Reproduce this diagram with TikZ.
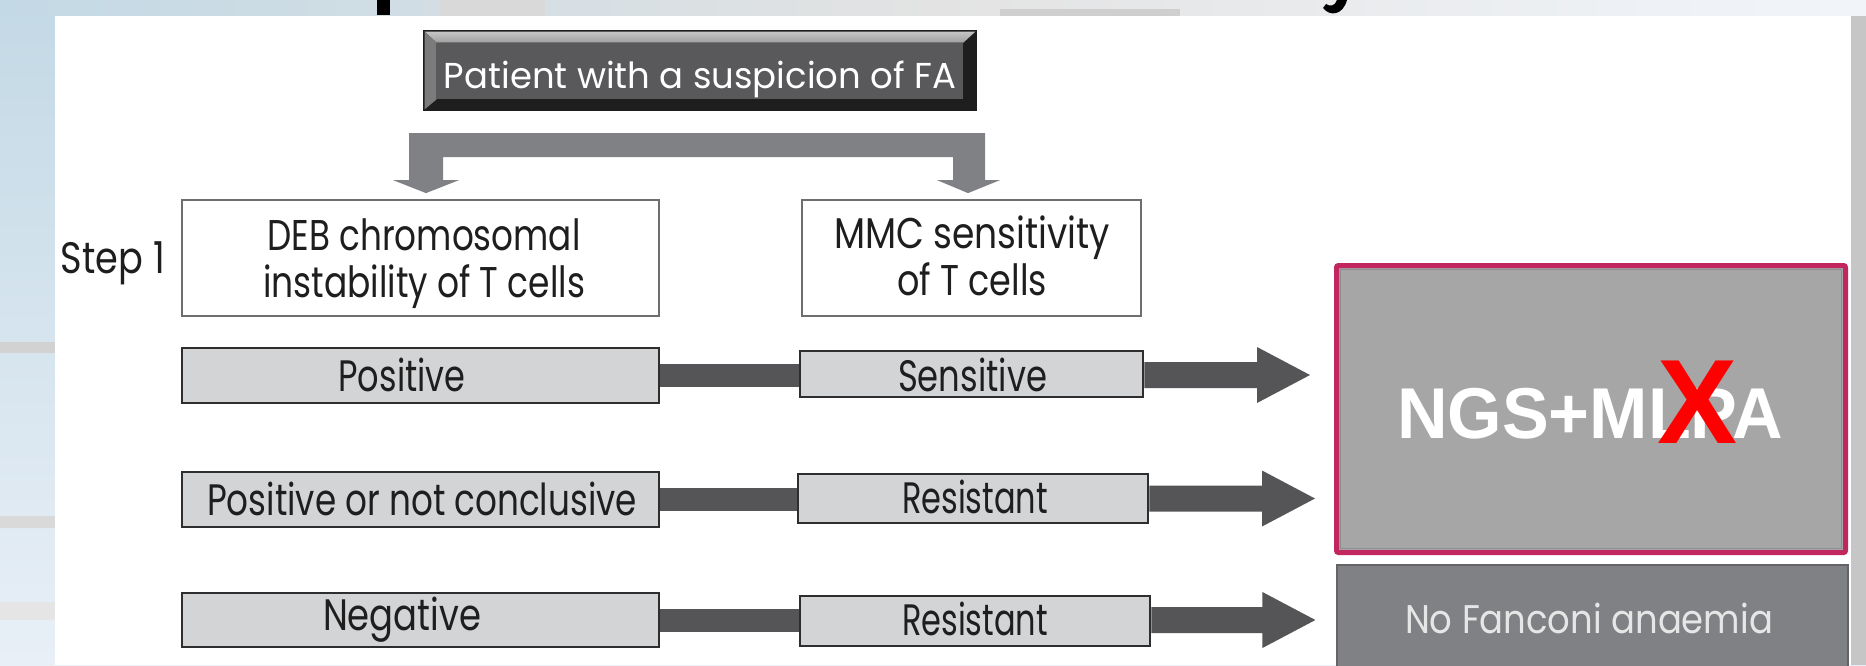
\documentclass[tikz,border=0pt]{standalone}
\usepackage{fontspec}
\setmainfont{Poppins}
\newfontfamily\arialf{Liberation Sans}
\usepackage{graphicx}
\usetikzlibrary{calc}
\newlength\pxu \setlength\pxu{0.5pt}
\newcommand\fw[2]{\resizebox{#1\pxu}{\height}{#2}}
\newcommand\fs[1]{\fontsize{#1}{#1}\selectfont}
\definecolor{ink}{HTML}{1E1E1E}
\definecolor{rowfill}{HTML}{D3D4D6}
\definecolor{rowline}{HTML}{2E2E2E}
\definecolor{wline}{HTML}{6E6E6E}
\definecolor{darkc}{HTML}{555557}
\definecolor{barc}{HTML}{808185}
\definecolor{pinkc}{HTML}{C2265F}
\definecolor{ngsfill}{HTML}{A6A6A6}
\definecolor{ngsinner}{HTML}{8E8E8E}
\definecolor{nofafill}{HTML}{808184}
\definecolor{nofaline}{HTML}{646466}
\definecolor{nofatext}{HTML}{E6E6E6}
\definecolor{patouter}{HTML}{1E1E1E}
\definecolor{patinner}{HTML}{59595B}
\definecolor{bgtop}{HTML}{C3D9E5}
\definecolor{bgbot}{HTML}{E8EFF7}
\begin{document}
\begin{tikzpicture}[x=0.5pt,y=-0.5pt,
  txt/.style={inner sep=0pt, outer sep=0pt, anchor=base, text=ink},
  rowl/.style={draw=rowline, line width=1.35pt, fill=rowfill, inner sep=0pt},
  wbox/.style={draw=wline, line width=0.9pt, fill=white, inner sep=0pt},
  conn/.style={draw=darkc, line width=11.5pt},
]
\useasboundingbox (0,0) rectangle (1866,665);
% background outside the white panel
\shade[top color=bgtop, bottom color=bgbot] (0,0) rectangle (1866,665);
\shade[left color=bgtop, right color=bgbot!60!white, middle color=gray!22!white] (0,0) rectangle (1866,16);
\fill[gray!30!white] (440,0) rectangle (545,16);
\fill[gray!38!white] (1000,9) rectangle (1180,16);
\fill[black] (377,0) rectangle (390,15);
\fill[black] (1323,8) .. controls (1330,17) and (1343,15) .. (1347,0) -- (1337,0) .. controls (1335,6) and (1330,7) .. (1326,4) -- cycle;
\fill[gray!35!white] (0,342) rectangle (55,353);
\fill[gray!30!white] (0,516) rectangle (55,528);
\fill[gray!20!white] (0,602) rectangle (55,620);
\fill[gray!45!white] (1851,16) rectangle (1866,665);
% white panel
\fill[white] (55,16) rectangle (1851,665);

% top box
\node[fill=patouter, inner sep=0pt, minimum width=277pt, minimum height=40.5pt] (pat) at (700,70.5) {};
\shade[top color=gray!45!white, bottom color=gray!75!white] ($(pat.north west)+(2,2)$) -- ($(pat.north east)+(-2,2)$) -- ($(pat.north east)+(-14,13)$) -- ($(pat.north west)+(14,13)$) -- cycle;
\fill[gray!85!black!90] ($(pat.north west)+(2,2)$) -- ($(pat.north west)+(14,13)$) -- ($(pat.south west)+(14,-12)$) -- ($(pat.south west)+(2,-2)$) -- cycle;
\fill[patinner] ($(pat.north west)+(14,13)$) rectangle ($(pat.south east)+(-14,-12)$);
\node[txt, text=white, font=\fs{18}] (patt) at (700,88) {\fw{512}{Patient with a suspicion of FA}};

% step 1 boxes
\node[txt, font=\fs{22}] (step) at (113,273) {\fw{104}{Step 1}};
\node[wbox, minimum width=238.5pt, minimum height=58pt] (deb) at (420.5,258) {};
\node[wbox, minimum width=169.5pt, minimum height=58pt] (mmc) at (971.5,258) {};
\node[txt, font=\fs{21.5}] (deb1) at (424,250) {\fw{313}{DEB chromosomal}};
\node[txt, font=\fs{21.5}] (deb2) at (424,297) {\fw{322}{instability of T cells}};
\node[txt, font=\fs{21.5}] (mmc1) at (972,248) {\fw{276}{MMC sensitivity}};
\node[txt, font=\fs{21.5}] (mmc2) at (972,295) {\fw{150}{of T cells}};

% branching grey arrow
\coordinate (tipL) at ($(deb.north)+(5.5,-6)$);
\coordinate (tipR) at ($(mmc.north)+(-3.5,-6)$);
\fill[barc] (tipL) -- ($(tipL)+(-33,-13)$) -- ($(tipL)+(-17,-13)$) -- ($(tipL)+(-17,-60)$)
  -- ($(tipR)+(17,-60)$) -- ($(tipR)+(17,-13)$) -- ($(tipR)+(32,-13)$) -- (tipR)
  -- ($(tipR)+(-31,-13)$) -- ($(tipR)+(-15,-13)$) -- ($(tipR)+(-15,-36)$)
  -- ($(tipL)+(17,-36)$) -- ($(tipL)+(17,-13)$) -- ($(tipL)+(33,-13)$) -- cycle;

% result boxes
\node[draw=pinkc, line width=2.5pt, fill=ngsfill, rounded corners=1pt, inner sep=0pt, minimum width=254.5pt, minimum height=143.5pt] (ngs) at (1591,409) {};
\draw[ngsinner, line width=0.6pt] ($(ngs.north west)+(6.5,6.5)$) rectangle ($(ngs.south east)+(-6.5,-6.5)$);
\node[fill=nofafill, draw=nofaline, line width=0.6pt, inner sep=0pt, minimum width=255.5pt, minimum height=57.5pt] (nofa) at (1592.5,622.5) {};
\node[txt, text=white, font=\arialf\bfseries\fs{36}] (ngst) at (1590,438) {\fw{386}{NGS+MLPA}};
\node[txt, text=red, font=\arialf\bfseries\fs{60}] (xmark) at (1697,443) {X};
\node[txt, text=nofatext, font=\fs{20}] (nofat) at (1589,633) {\fw{368}{No Fanconi anaemia}};

% rows
\node[rowl, minimum width=238.5pt, minimum height=27.5pt] (r1l) at (420.5,375.5) {};
\node[rowl, minimum width=171.5pt, minimum height=23pt] (r1r) at (971.5,374) {};
\node[rowl, minimum width=238.5pt, minimum height=27.5pt] (r2l) at (420.5,499.5) {};
\node[rowl, minimum width=175pt, minimum height=24.5pt] (r2r) at (973,498.5) {};
\node[rowl, minimum width=238.5pt, minimum height=27pt] (r3l) at (420.5,620) {};
\node[rowl, minimum width=175pt, minimum height=25pt] (r3r) at (975,621) {};

\node[txt, font=\fs{22}] (r1lt) at (402,391) {\fw{127}{Positive}};
\node[txt, font=\fs{22}] (r1rt) at (972.5,391) {\fw{149}{Sensitive}};
\node[txt, font=\fs{22}] (r2lt) at (422,515) {\fw{430}{Positive or not conclusive}};
\node[txt, font=\fs{22}] (r2rt) at (975,513) {\fw{146}{Resistant}};
\node[txt, font=\fs{22}] (r3lt) at (402,630) {\fw{158}{Negative}};
\node[txt, font=\fs{22}] (r3rt) at (975,635) {\fw{146}{Resistant}};

% connectors between the two boxes of each row
\draw[conn] (r1l.east) -- (r1l.east -| r1r.west);
\draw[conn] (r2l.east) -- (r2l.east -| r2r.west);
\draw[conn] (r3l.east) -- (r3l.east -| r3r.west);

% fat arrows to the results
\coordinate (t1) at ($(r1r.east -| ngs.west)+(-24,1)$);
\coordinate (t2) at ($(r2r.east -| ngs.west)+(-19,0)$);
\coordinate (t3) at ($(r3r.east -| nofa.west)+(-21,-1)$);
\newcommand\fatarrow[2]{\fill[darkc] ($(#1.east |- #2)+(0,-13)$) -- ($(#2)+(-53,-13)$) -- ($(#2)+(-53,-28)$) -- (#2) -- ($(#2)+(-53,28)$) -- ($(#2)+(-53,13)$) -- ($(#1.east |- #2)+(0,13)$) -- cycle;}
\fatarrow{r1r}{t1}
\fatarrow{r2r}{t2}
\fatarrow{r3r}{t3}
\end{tikzpicture}
\end{document}
